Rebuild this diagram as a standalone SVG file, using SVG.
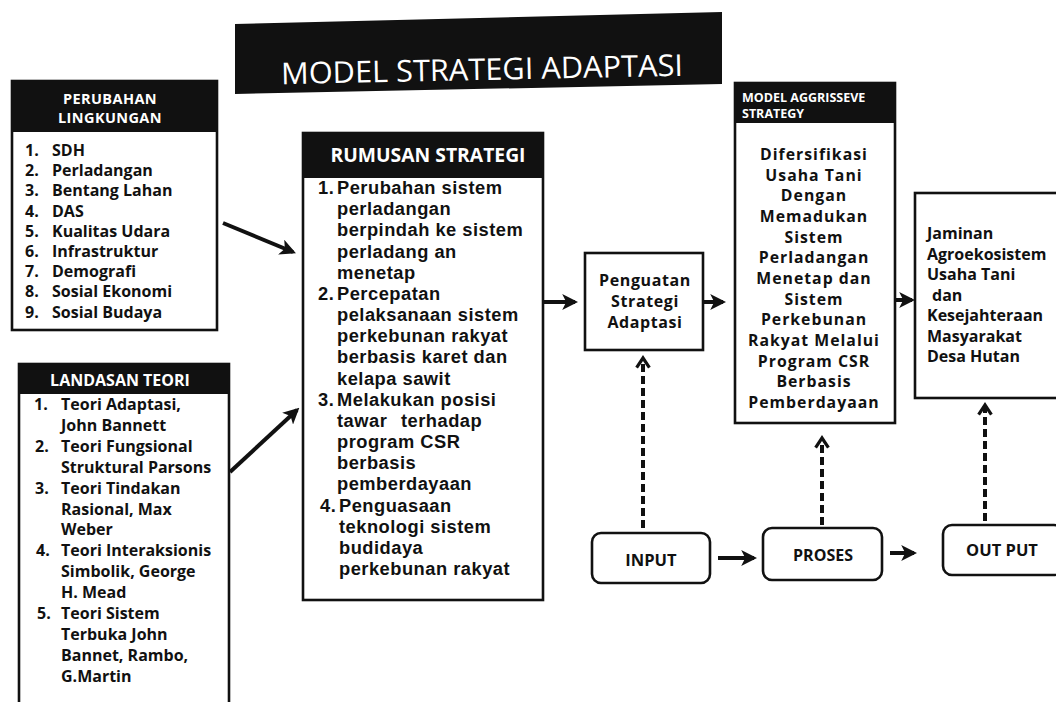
<svg xmlns="http://www.w3.org/2000/svg" width="1056" height="702" viewBox="0 0 1056 702">
<style>
.box{fill:#fff;stroke:#111;stroke-width:2.6}
.hdr{fill:#111}
.hd{font-family:"Open Sans",sans-serif;font-weight:700;fill:#fff}
.bt{font-family:"Open Sans",sans-serif;font-weight:700;fill:#111}
.ar{font-family:"Liberation Sans",Arial,sans-serif;font-weight:700;fill:#111;font-size:18.3px;letter-spacing:0.5px}
.sol{stroke:#111;stroke-width:4;fill:none}
.dash{stroke:#111;stroke-width:4;fill:none;stroke-dasharray:8 4}
.c{text-anchor:middle}
</style>
<defs>
<marker id="ah" viewBox="0 0 10 10" refX="8" refY="5" markerWidth="4" markerHeight="4" orient="auto" markerUnits="strokeWidth">
<path d="M0,0 L10,5 L0,10 L2.5,5 z" fill="#111"/>
</marker>
<marker id="dh" viewBox="0 0 10 10" refX="8" refY="5" markerWidth="4" markerHeight="4" orient="auto" markerUnits="strokeWidth">
<path d="M2,1 L8,5 L2,9" fill="none" stroke="#111" stroke-width="2"/>
</marker>
</defs>
<rect width="1056" height="702" fill="#fff"/>

<g id="title">
<polygon points="235,24 722,12 722,84 235,94" fill="#111"/>
<text x="482" y="80" transform="rotate(-1.2 480 71)" font-family="Open Sans, sans-serif" font-size="30" fill="#fff" text-anchor="middle" textLength="402" lengthAdjust="spacingAndGlyphs">MODEL STRATEGI ADAPTASI</text>
</g>

<g id="perubahan">
<rect class="box" x="12" y="81" width="205" height="249"/>
<rect class="hdr" x="12" y="81" width="205" height="51"/>
<text class="hd c" x="110" y="103.5" font-size="14.5" letter-spacing="0.4">PERUBAHAN</text>
<text class="hd c" x="110" y="123" font-size="14.5" letter-spacing="0.4">LINGKUNGAN</text>
<g class="bt" font-size="16">
<text x="25" y="156">1.</text><text x="52" y="156">SDH</text>
<text x="25" y="176.2">2.</text><text x="52" y="176.2">Perladangan</text>
<text x="25" y="196.4">3.</text><text x="52" y="196.4">Bentang Lahan</text>
<text x="25" y="216.6">4.</text><text x="52" y="216.6">DAS</text>
<text x="25" y="236.8">5.</text><text x="52" y="236.8">Kualitas Udara</text>
<text x="25" y="257">6.</text><text x="52" y="257">Infrastruktur</text>
<text x="25" y="277.2">7.</text><text x="52" y="277.2">Demografi</text>
<text x="25" y="297.4">8.</text><text x="52" y="297.4">Sosial Ekonomi</text>
<text x="25" y="317.6">9.</text><text x="52" y="317.6">Sosial Budaya</text>
</g>
</g>

<g id="landasan">
<rect class="box" x="19" y="364" width="210" height="350"/>
<rect class="hdr" x="19" y="364" width="210" height="30"/>
<text class="hd c" x="120" y="386" font-size="16">LANDASAN  TEORI</text>
<g class="bt" font-size="16">
<text x="34" y="410">1.</text><text x="61" y="410">Teori Adaptasi,</text>
<text x="61" y="430.9">John Bannett</text>
<text x="35" y="451.8">2.</text><text x="61" y="451.8">Teori Fungsional</text>
<text x="61" y="472.7">Struktural Parsons</text>
<text x="35" y="493.6">3.</text><text x="61" y="493.6">Teori Tindakan</text>
<text x="61" y="514.5">Rasional, Max</text>
<text x="61" y="535.4">Weber</text>
<text x="36" y="556.3">4.</text><text x="61" y="556.3">Teori Interaksionis</text>
<text x="61" y="577.2">Simbolik, George</text>
<text x="61" y="598.1">H. Mead</text>
<text x="37" y="619">5.</text><text x="61" y="619">Teori Sistem</text>
<text x="61" y="639.9">Terbuka John</text>
<text x="61" y="660.8">Bannet, Rambo,</text>
<text x="61" y="681.7">G.Martin</text>
</g>
</g>

<g id="rumusan">
<rect class="box" x="303" y="133" width="240" height="467"/>
<rect class="hdr" x="303" y="133" width="240" height="45"/>
<text class="hd c" x="428" y="162" font-size="19" textLength="195" lengthAdjust="spacingAndGlyphs">RUMUSAN  STRATEGI</text>
<g class="ar">
<text x="318" y="194">1.</text><text x="337" y="194">Perubahan sistem</text>
<text x="337" y="215.2">perladangan</text>
<text x="337" y="236.3">berpindah ke sistem</text>
<text x="337" y="257.5">perladang an</text>
<text x="337" y="278.7">menetap</text>
<text x="318" y="299.8">2.</text><text x="337" y="299.8">Percepatan</text>
<text x="337" y="321">pelaksanaan sistem</text>
<text x="337" y="342.2">perkebunan rakyat</text>
<text x="337" y="363.4">berbasis karet dan</text>
<text x="337" y="384.5">kelapa sawit</text>
<text x="318" y="405.7">3.</text><text x="337" y="405.7">Melakukan posisi</text>
<text x="337" y="426.9">tawar</text><text x="401" y="426.9">terhadap</text>
<text x="337" y="448">program CSR</text>
<text x="337" y="469.2">berbasis</text>
<text x="337" y="490.4">pemberdayaan</text>
<text x="320" y="511.5">4.</text><text x="339" y="511.5">Penguasaan</text>
<text x="339" y="532.7">teknologi sistem</text>
<text x="339" y="553.9">budidaya</text>
<text x="339" y="575">perkebunan rakyat</text>
</g>
</g>

<g id="penguatan">
<rect class="box" x="585" y="253" width="118" height="97"/>
<g class="bt c" font-size="16" letter-spacing="0.6">
<text x="645" y="286.3">Penguatan</text>
<text x="645" y="307">Strategi</text>
<text x="645" y="327.7">Adaptasi</text>
</g>
</g>

<g id="aggressive">
<rect class="box" x="735" y="83" width="160" height="340"/>
<rect class="hdr" x="735" y="83" width="160" height="40"/>
<text class="hd" x="742" y="102" font-size="12.5">MODEL AGGRISSEVE</text>
<text class="hd" x="742" y="118" font-size="12.5">STRATEGY</text>
<g class="bt c" font-size="15.8" letter-spacing="1">
<text x="814" y="160">Difersifikasi</text>
<text x="814" y="180.7">Usaha Tani</text>
<text x="814" y="201.3">Dengan</text>
<text x="814" y="222">Memadukan</text>
<text x="814" y="242.7">Sistem</text>
<text x="814" y="263.3">Perladangan</text>
<text x="814" y="284">Menetap dan</text>
<text x="814" y="304.7">Sistem</text>
<text x="814" y="325.3">Perkebunan</text>
<text x="814" y="346">Rakyat Melalui</text>
<text x="814" y="366.7">Program CSR</text>
<text x="814" y="387.3">Berbasis</text>
<text x="814" y="408">Pemberdayaan</text>
</g>
</g>

<g id="jaminan">
<rect class="box" x="915" y="193" width="150" height="205"/>
<g class="bt" font-size="16">
<text x="927" y="239">Jaminan</text>
<text x="927" y="259.5">Agroekosistem</text>
<text x="927" y="280">Usaha Tani</text>
<text x="932" y="300.5">dan</text>
<text x="927" y="321">Kesejahteraan</text>
<text x="927" y="341.5">Masyarakat</text>
<text x="927" y="362">Desa Hutan</text>
</g>
</g>

<g id="input">
<rect class="box" x="592" y="533" width="118" height="50" rx="9"/>
<text class="bt c" x="651" y="566" font-size="16.5">INPUT</text>
</g>
<g id="proses">
<rect class="box" x="763" y="528" width="119" height="52" rx="9"/>
<text class="bt c" x="823" y="561" font-size="16">PROSES</text>
</g>
<g id="output">
<rect class="box" x="943" y="525" width="120" height="50" rx="9"/>
<text class="bt c" x="1002" y="556" font-size="16.5">OUT PUT</text>
</g>

<g id="connectors">
<line class="sol" x1="223" y1="223" x2="293" y2="252" marker-end="url(#ah)"/>
<line class="sol" x1="230" y1="472" x2="297" y2="410" marker-end="url(#ah)"/>
<line class="sol" x1="543" y1="302" x2="575" y2="302" marker-end="url(#ah)"/>
<line class="sol" x1="703" y1="302" x2="723" y2="302" marker-end="url(#ah)"/>
<line class="sol" x1="895" y1="300" x2="912" y2="300" marker-end="url(#ah)"/>
<line class="sol" x1="718" y1="558" x2="754" y2="558" marker-end="url(#ah)"/>
<line class="sol" x1="890" y1="553" x2="914" y2="553" marker-end="url(#ah)"/>
<line class="dash" x1="643" y1="528" x2="643" y2="358" marker-end="url(#dh)"/>
<line class="dash" x1="822" y1="525" x2="822" y2="438" marker-end="url(#dh)"/>
<line class="dash" x1="985" y1="521" x2="985" y2="405" marker-end="url(#dh)"/>
</g>
</svg>
